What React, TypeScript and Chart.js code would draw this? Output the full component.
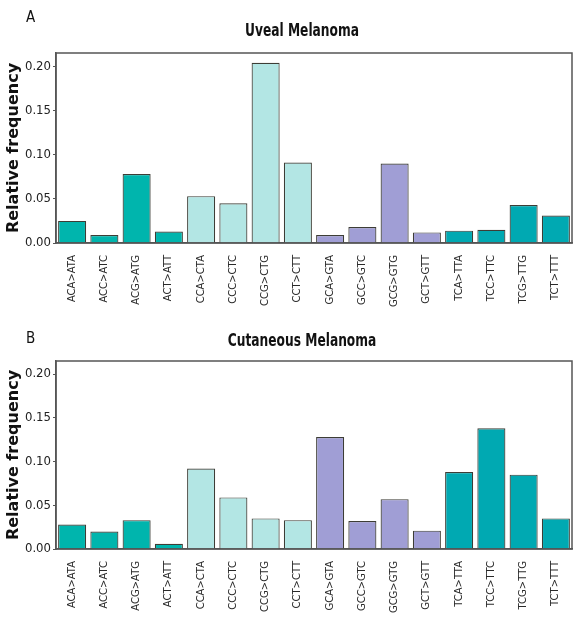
import React, { useEffect, useRef } from "react";
import { Chart, registerables } from "chart.js";

Chart.register(...registerables);

const categories = [
  "ACA>ATA", "ACC>ATC", "ACG>ATG", "ACT>ATT",
  "CCA>CTA", "CCC>CTC", "CCG>CTG", "CCT>CTT",
  "GCA>GTA", "GCC>GTC", "GCG>GTG", "GCT>GTT",
  "TCA>TTA", "TCC>TTC", "TCG>TTG", "TCT>TTT",
];

const uvealValues = [0.025, 0.009, 0.078, 0.013, 0.053, 0.045, 0.204, 0.091, 0.009, 0.018, 0.090, 0.012, 0.014, 0.015, 0.043, 0.031];
const cutaneousValues = [0.028, 0.020, 0.033, 0.006, 0.092, 0.059, 0.035, 0.033, 0.128, 0.032, 0.057, 0.021, 0.088, 0.138, 0.085, 0.035];

const groupColors = ["#00B5AD", "#B3E6E4", "#A09ED5", "#00A9B2"];
const barColors = categories.map((_, i) => groupColors[Math.floor(i / 4)]);

const yTicks = [0, 0.05, 0.1, 0.15, 0.2];

interface PanelProps {
  letter: string;
  title: string;
  values: number[];
  top: number;
  height: number;
  areaTop: number;
  xAxisHeight: number;
  titleY: number;
  letterY: number;
}

function Panel(props: PanelProps) {
  const ref = useRef<HTMLCanvasElement | null>(null);
  useEffect(() => {
    if (!ref.current) return;
    const decor = {
      id: "decor",
      afterDraw(chart: any) {
        const ctx = chart.ctx;
        const a = chart.chartArea;
        ctx.save();
        ctx.strokeStyle = "#555555";
        ctx.lineWidth = 1.5;
        ctx.strokeRect(a.left, a.top, a.right - a.left, a.bottom - a.top);
        ctx.fillStyle = "#111111";
        ctx.textBaseline = "middle";
        ctx.textAlign = "center";
        ctx.save();
        ctx.translate(302, props.titleY);
        ctx.scale(0.8, 1);
        ctx.font = "bold 17px 'DejaVu Sans Condensed', sans-serif";
        ctx.fillText(props.title, 0, 0);
        ctx.restore();
        ctx.font = "15px 'DejaVu Sans Condensed', sans-serif";
        ctx.textAlign = "left";
        ctx.fillText(props.letter, 26, props.letterY);
        ctx.restore();
      },
    };
    const chart = new Chart(ref.current, {
      type: "bar",
      data: {
        labels: categories,
        datasets: [
          {
            data: props.values,
            backgroundColor: barColors,
            borderColor: "#3d3d36",
            borderWidth: 1.2,
            categoryPercentage: 1,
            barPercentage: 0.87,
          },
        ],
      },
      options: {
        animation: false,
        responsive: false,
        devicePixelRatio: 1,
        layout: { padding: { top: props.areaTop, right: 2, left: 0, bottom: 0 } },
        plugins: { legend: { display: false }, tooltip: { enabled: false }, title: { display: false } },
        scales: {
          x: {
            grid: { display: false },
            border: { display: true, color: "#555555", width: 1.5 },
            ticks: {
              minRotation: 90,
              maxRotation: 90,
              autoSkip: false,
              padding: 4,
              color: "#2a2a2a",
              font: { family: "'DejaVu Sans', sans-serif", size: 10 },
            },
            afterFit: (scale: any) => {
              scale.height = props.xAxisHeight;
            },
          },
          y: {
            min: 0,
            max: 0.215,
            afterBuildTicks: (scale: any) => {
              scale.ticks = yTicks.map((v) => ({ value: v }));
            },
            grid: { display: true, drawOnChartArea: false, drawTicks: true, tickLength: 3, color: "#555555" },
            border: { display: true, color: "#555555", width: 1.5 },
            ticks: {
              padding: 2,
              color: "#222222",
              font: { family: "'DejaVu Sans Condensed', sans-serif", size: 13 },
              callback: (v: any) => Number(v).toFixed(2),
            },
            title: {
              display: true,
              text: "Relative frequency",
              color: "#111111",
              padding: { top: 4, bottom: 0 },
              font: { family: "'DejaVu Sans', sans-serif", size: 16, weight: "bold" },
            },
            afterFit: (scale: any) => {
              scale.width = 56;
            },
          },
        },
      },
      plugins: [decor],
    } as any);
    return () => chart.destroy();
  }, []);
  return (
    <canvas
      ref={ref}
      width={574}
      height={props.height}
      style={{ position: "absolute", left: 0, top: props.top, width: 574, height: props.height }}
    />
  );
}

export default function App() {
  return (
    <div style={{ position: "fixed", left: 0, top: 0, width: 574, height: 619, background: "#ffffff" }}>
      <Panel letter="A" title="Uveal Melanoma" values={uvealValues} top={0} height={320} areaTop={53} xAxisHeight={77} titleY={32} letterY={18} />
      <Panel letter="B" title="Cutaneous Melanoma" values={cutaneousValues} top={320} height={299} areaTop={41} xAxisHeight={70} titleY={22} letterY={19} />
    </div>
  );
}
